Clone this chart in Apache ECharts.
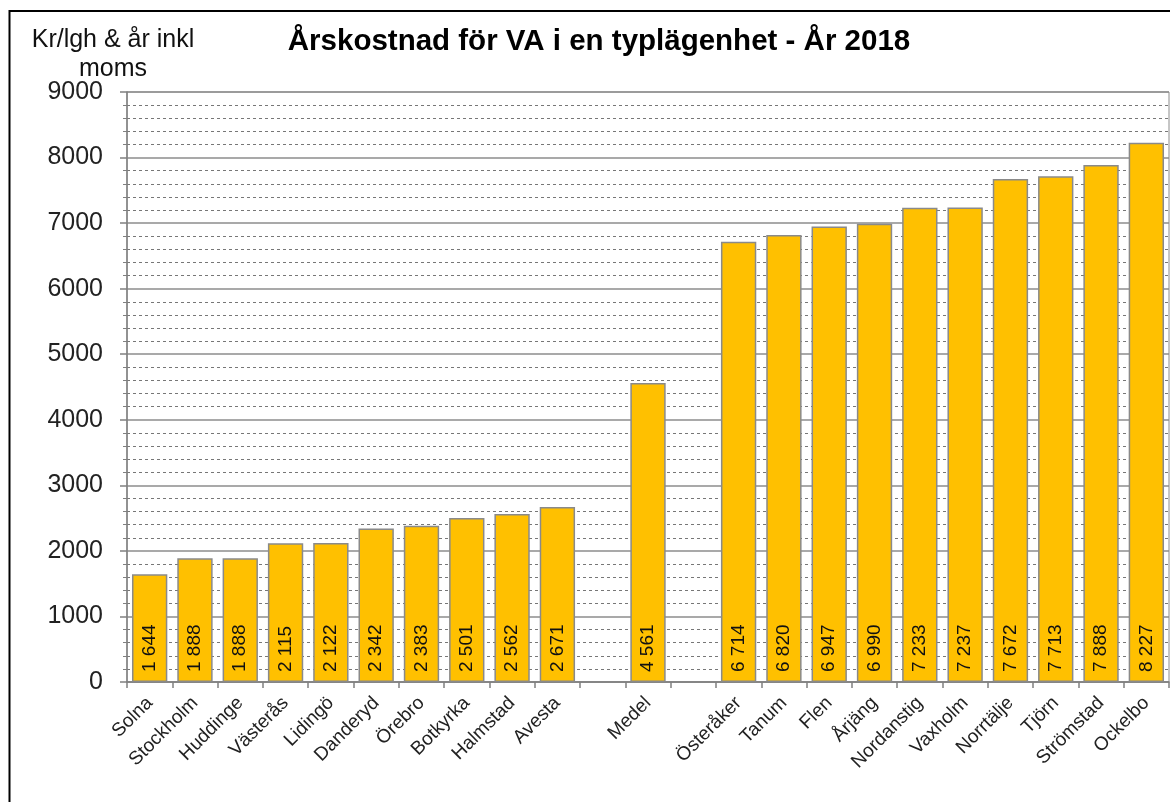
<!DOCTYPE html>
<html>
<head>
<meta charset="utf-8">
<script src="https://cdn.jsdelivr.net/npm/echarts@6/dist/echarts.min.js"></script>
<style>
html,body{margin:0;padding:0;background:#fff;}
#chart{width:1170px;height:802px;}
</style>
</head>
<body>
<div id="chart"></div>
<script>
const categories = ['Solna','Stockholm','Huddinge','Västerås','Lidingö','Danderyd','Örebro','Botkyrka','Halmstad','Avesta','','Medel','','Österåker','Tanum','Flen','Årjäng','Nordanstig','Vaxholm','Norrtälje','Tjörn','Strömstad','Ockelbo'];
const values = [1644,1888,1888,2115,2122,2342,2383,2501,2562,2671,null,4561,null,6714,6820,6947,6990,7233,7237,7672,7713,7888,8227];
const titleText = 'Årskostnad för VA i en typlägenhet - År 2018';
const unitText = 'Kr/lgh & år inkl\nmoms';
const yMin = 0, yMax = 9000, yInterval = 1000;

const FONT = '"Liberation Sans", Arial, sans-serif';
const chart = echarts.init(document.getElementById('chart'), null, {renderer: 'canvas'});

function fmt(v){
  return String(v).replace(/\B(?=(\d{3})+(?!\d))/g, ' ');
}

chart.setOption({
  backgroundColor: '#fff',
  animation: false,
  title: [
    {text: titleText, left: 594, top: 22, textAlign: 'center',
     textStyle: {fontFamily: FONT, fontSize: 29.5, fontWeight: 'bold', color: '#000'}},
    {text: unitText, left: 108, top: 21, textAlign: 'center',
     textStyle: {fontFamily: FONT, fontSize: 25, fontWeight: 'normal', color: '#111', lineHeight: 29}}
  ],
  graphic: [
    {type: 'rect', shape: {x: 9.5, y: 11, width: 1300, height: 1000},
     style: {fill: 'none', stroke: '#000', lineWidth: 2}, z: 100, silent: true}
  ],
  grid: {left: 127, right: 1, top: 92, bottom: 120, containLabel: false,
         show: true, borderColor: '#8c8c8c', borderWidth: 1, backgroundColor: 'transparent'},
  xAxis: {
    type: 'category',
    data: categories,
    boundaryGap: true,
    axisLine: {show: true, lineStyle: {color: '#808080', width: 1.5}},
    axisTick: {show: true, alignWithLabel: false, interval: 0, length: 6, lineStyle: {color: '#808080', width: 1.5}},
    axisLabel: {interval: 0, rotate: 45, margin: 18, fontFamily: FONT, fontSize: 19, color: '#222'},
    splitLine: {show: false}
  },
  yAxis: {
    type: 'value',
    min: yMin, max: yMax, interval: yInterval,
    axisLine: {show: true, lineStyle: {color: '#808080', width: 1.5}},
    axisTick: {show: true, length: 7, lineStyle: {color: '#808080', width: 1.5}},
    minorTick: {show: true, splitNumber: 5, length: 4, lineStyle: {color: '#808080'}},
    axisLabel: {fontFamily: FONT, fontSize: 25, color: '#222', margin: 24, formatter: v => String(v)},
    splitLine: {show: true, lineStyle: {color: '#8c8c8c', width: 1.5}},
    minorSplitLine: {show: true, lineStyle: {color: '#777', width: 1, type: [3, 3]}}
  },
  series: [{
    type: 'bar',
    data: values,
    barCategoryGap: '22%',
    itemStyle: {color: '#FFC000', borderColor: '#8a8a8a', borderWidth: 1.5},
    label: {
      show: true,
      position: 'insideBottom',
      rotate: 90,
      align: 'left',
      verticalAlign: 'middle',
      distance: 10,
      fontFamily: FONT,
      fontSize: 19,
      color: '#111',
      formatter: p => fmt(p.value)
    }
  }]
});
</script>
</body>
</html>
